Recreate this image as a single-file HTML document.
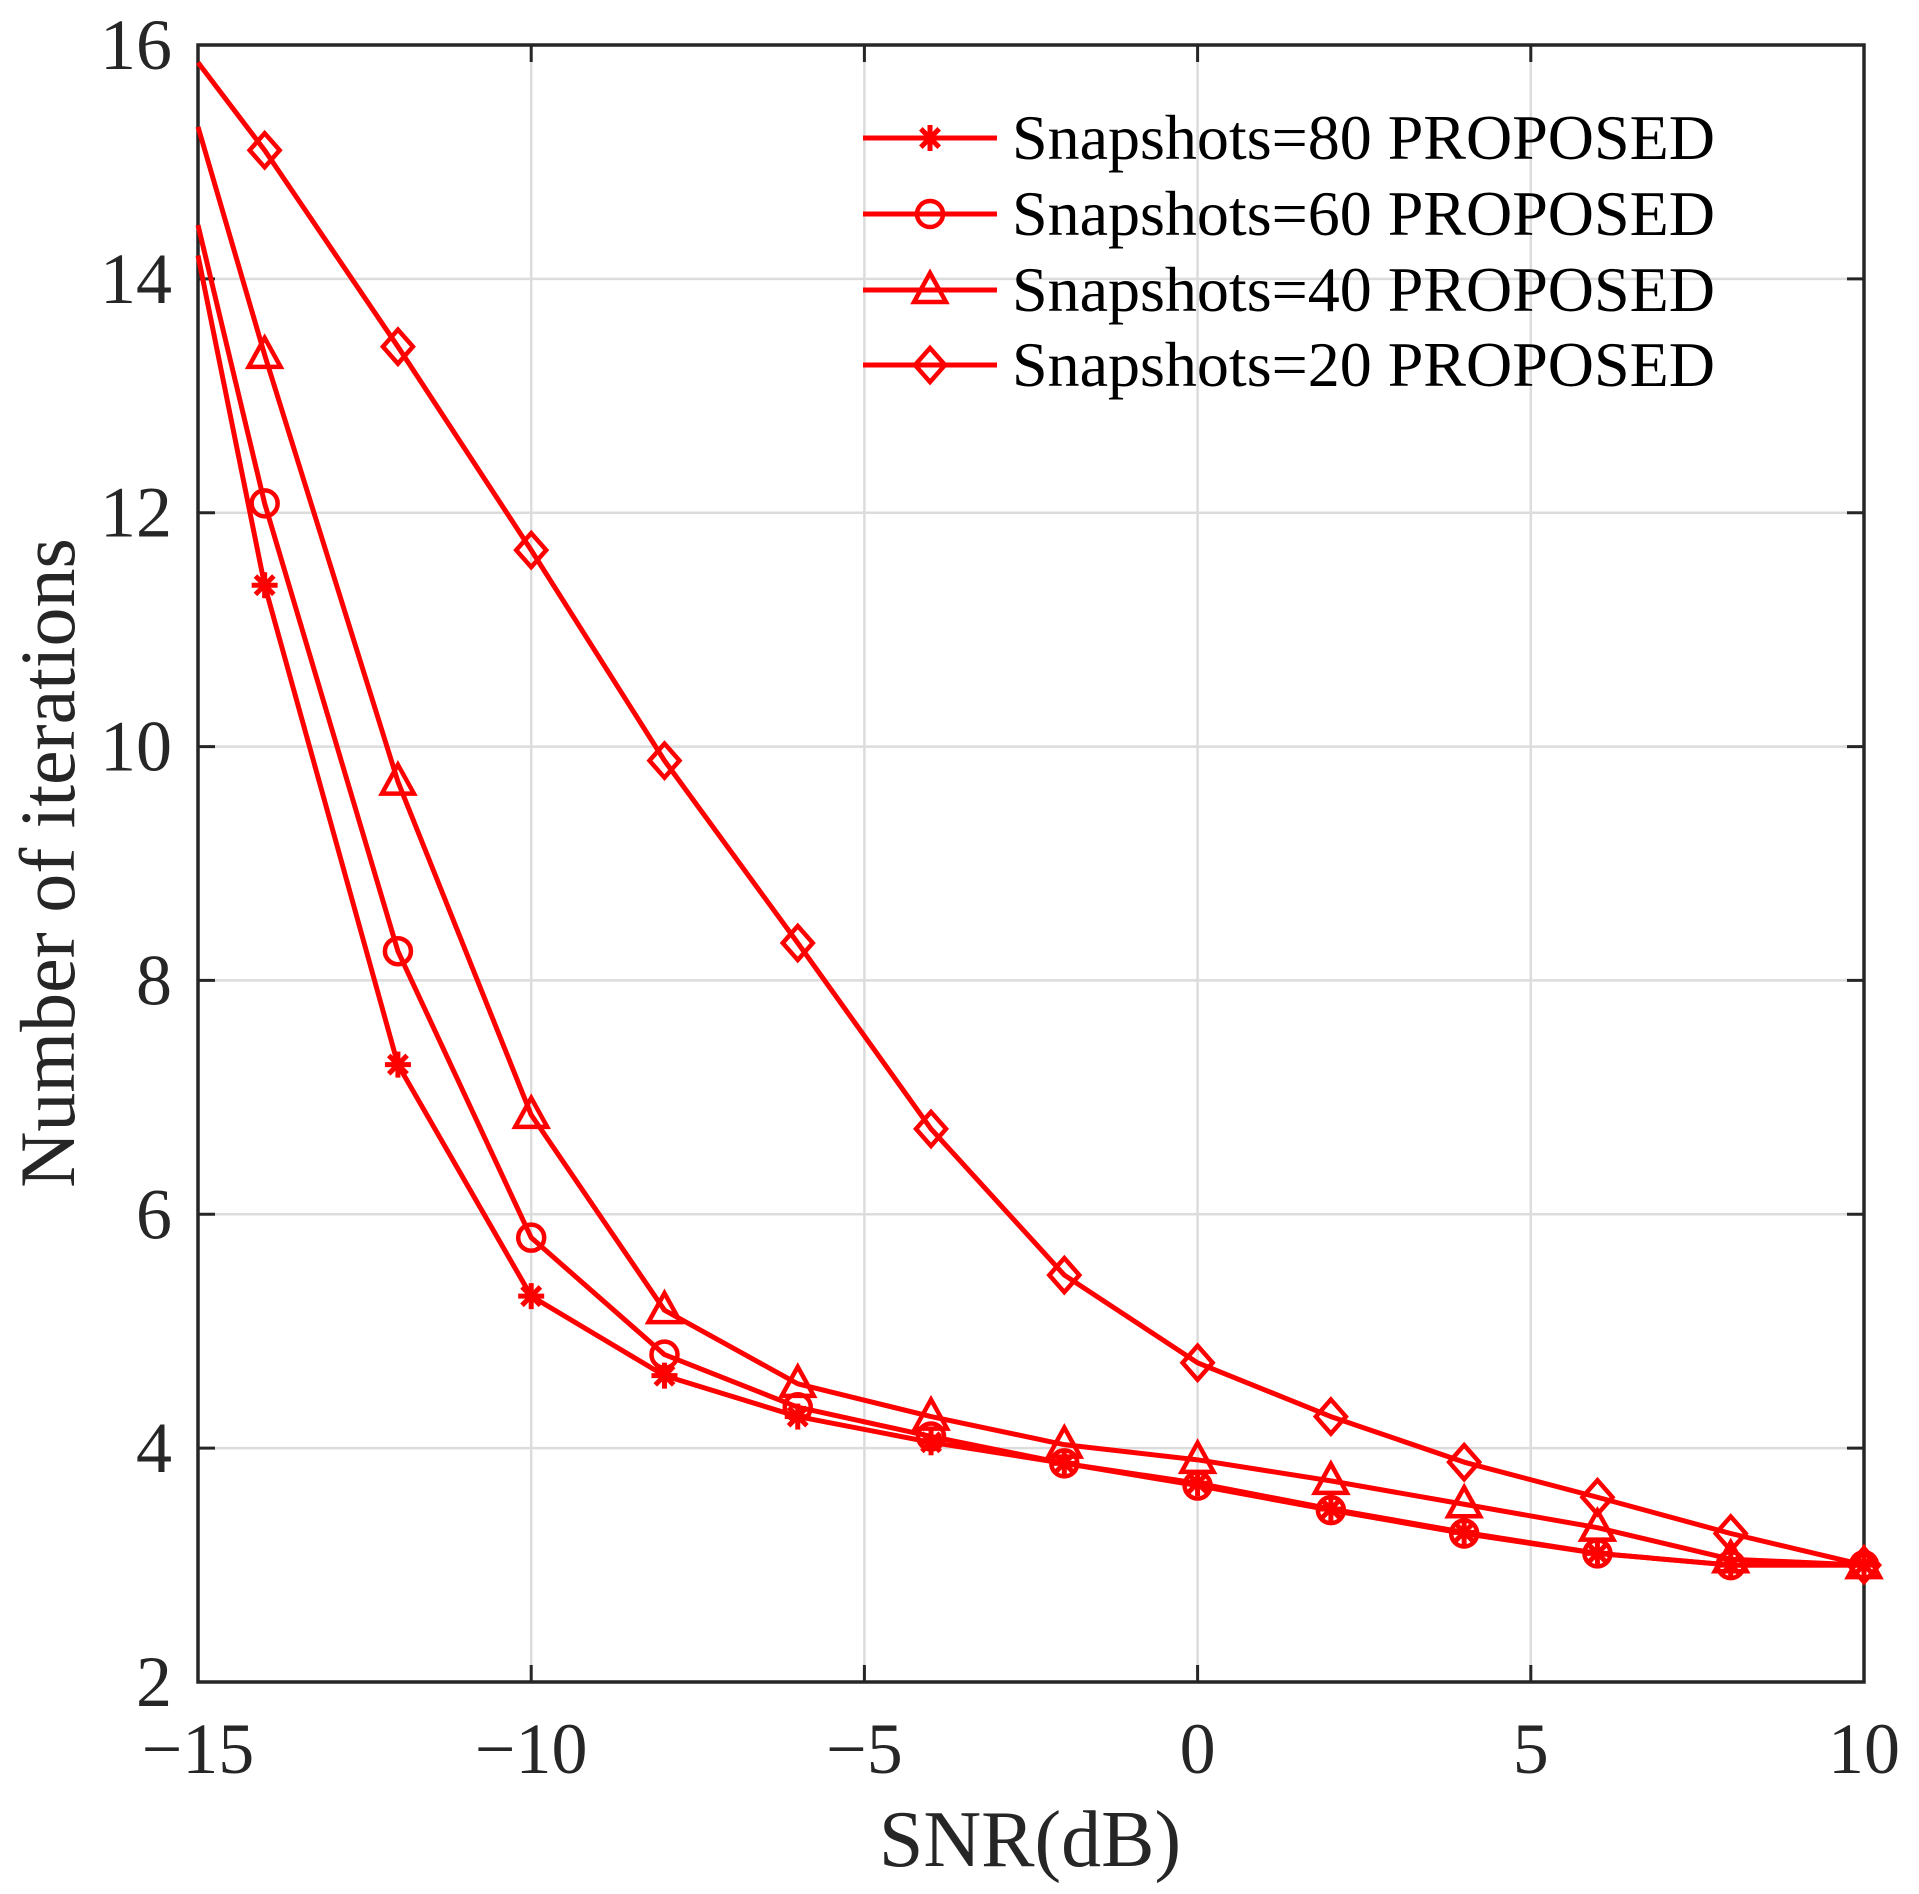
<!DOCTYPE html>
<html><head><meta charset="utf-8"><style>html,body{margin:0;padding:0;background:#fff}svg{display:block}</style></head>
<body>
<svg id="s" width="1919" height="1894" xmlns="http://www.w3.org/2000/svg" font-family="Liberation Serif, serif" fill="#262626"></svg>
<script>
const L=198,R=1864,T=45,B=1682;
const X=v=>L+(v+15)/25*(R-L), Y=v=>B-(v-2)/14*(B-T);
let h='';
for(let v=-10;v<10;v+=5){h+=`<line x1="${X(v)}" y1="${T}" x2="${X(v)}" y2="${B}" stroke="#dcdcdc" stroke-width="2.5"/>`;}
for(let v=4;v<16;v+=2){h+=`<line x1="${L}" y1="${Y(v)}" x2="${R}" y2="${Y(v)}" stroke="#dcdcdc" stroke-width="2.5"/>`;}
for(let v=-15;v<=10;v+=5){const x=X(v);h+=`<line x1="${x}" y1="${B}" x2="${x}" y2="${B-17}" stroke="#262626" stroke-width="3"/><line x1="${x}" y1="${T}" x2="${x}" y2="${T+17}" stroke="#262626" stroke-width="3"/>`;
 h+=`<text x="${x}" y="1773" font-size="72" text-anchor="middle">${v<0?'\u2212'+(-v):v}</text>`;}
for(let v=2;v<=16;v+=2){const y=Y(v);h+=`<line x1="${L}" y1="${y}" x2="${L+17}" y2="${y}" stroke="#262626" stroke-width="3"/><line x1="${R}" y1="${y}" x2="${R-17}" y2="${y}" stroke="#262626" stroke-width="3"/>`;
 h+=`<text x="172" y="${y+24}" font-size="72" text-anchor="end">${v}</text>`;}
h+=`<rect x="${L}" y="${T}" width="${R-L}" height="${B-T}" fill="none" stroke="#262626" stroke-width="3.5"/>`;
h+=`<text x="1030" y="1866" font-size="80" text-anchor="middle">SNR(dB)</text>`;
h+=`<text transform="translate(74,863) rotate(-90)" font-size="78" text-anchor="middle">Number of iterations</text>`;
const xs=[-15,-14,-12,-10,-8,-6,-4,-2,0,2,4,6,8,10];
const S={
d:[15.85,15.1,13.42,11.68,9.88,8.32,6.73,5.48,4.73,4.27,3.88,3.58,3.27,3.0],
t:[15.3,13.35,9.7,6.85,5.18,4.55,4.27,4.03,3.9,3.72,3.52,3.32,3.05,3.0],
c:[14.46,12.08,8.25,5.8,4.8,4.35,4.1,3.87,3.68,3.47,3.27,3.1,3.0,3.0],
s:[14.2,11.38,7.28,5.3,4.62,4.27,4.05,3.87,3.7,3.48,3.28,3.1,3.0,3.0]};
function mk(t,x,y){
 const st='fill="none" stroke="#ff0000" stroke-width="4.5"';
 if(t=='d')return `<polygon points="${x},${y-17} ${x+15},${y} ${x},${y+17} ${x-15},${y}" ${st}/>`;
 if(t=='t')return `<polygon points="${x},${y-17} ${x+16},${y+12} ${x-16},${y+12}" ${st}/>`;
 if(t=='c')return `<circle cx="${x}" cy="${y}" r="13" ${st}/>`;
 let p='';for(let a=0;a<180;a+=45){const r=a*Math.PI/180;p+=`<line x1="${x-13*Math.cos(r)}" y1="${y-13*Math.sin(r)}" x2="${x+13*Math.cos(r)}" y2="${y+13*Math.sin(r)}" stroke="#ff0000" stroke-width="5"/>`;}
 return p;}
for(const k of ['s','c','t','d']){
 let pts=xs.map((v,i)=>X(v)+','+Y(S[k][i])).join(' ');
 h+=`<polyline points="${pts}" fill="none" stroke="#ff0000" stroke-width="5" stroke-linejoin="round"/>`;
 xs.forEach((v,i)=>{if(i>0)h+=mk(k,X(v),Y(S[k][i]));});
}
const lg=[['s','Snapshots=80 PROPOSED',138],['c','Snapshots=60 PROPOSED',214],['t','Snapshots=40 PROPOSED',290],['d','Snapshots=20 PROPOSED',365]];
for(const [k,t,y] of lg){h+=`<line x1="863" y1="${y}" x2="997" y2="${y}" stroke="#ff0000" stroke-width="5"/>`+mk(k,930,y)+`<text x="1012" y="${y+21}" font-size="64" fill="#000">${t}</text>`;}
document.getElementById('s').innerHTML=h;
</script>
</body></html>
